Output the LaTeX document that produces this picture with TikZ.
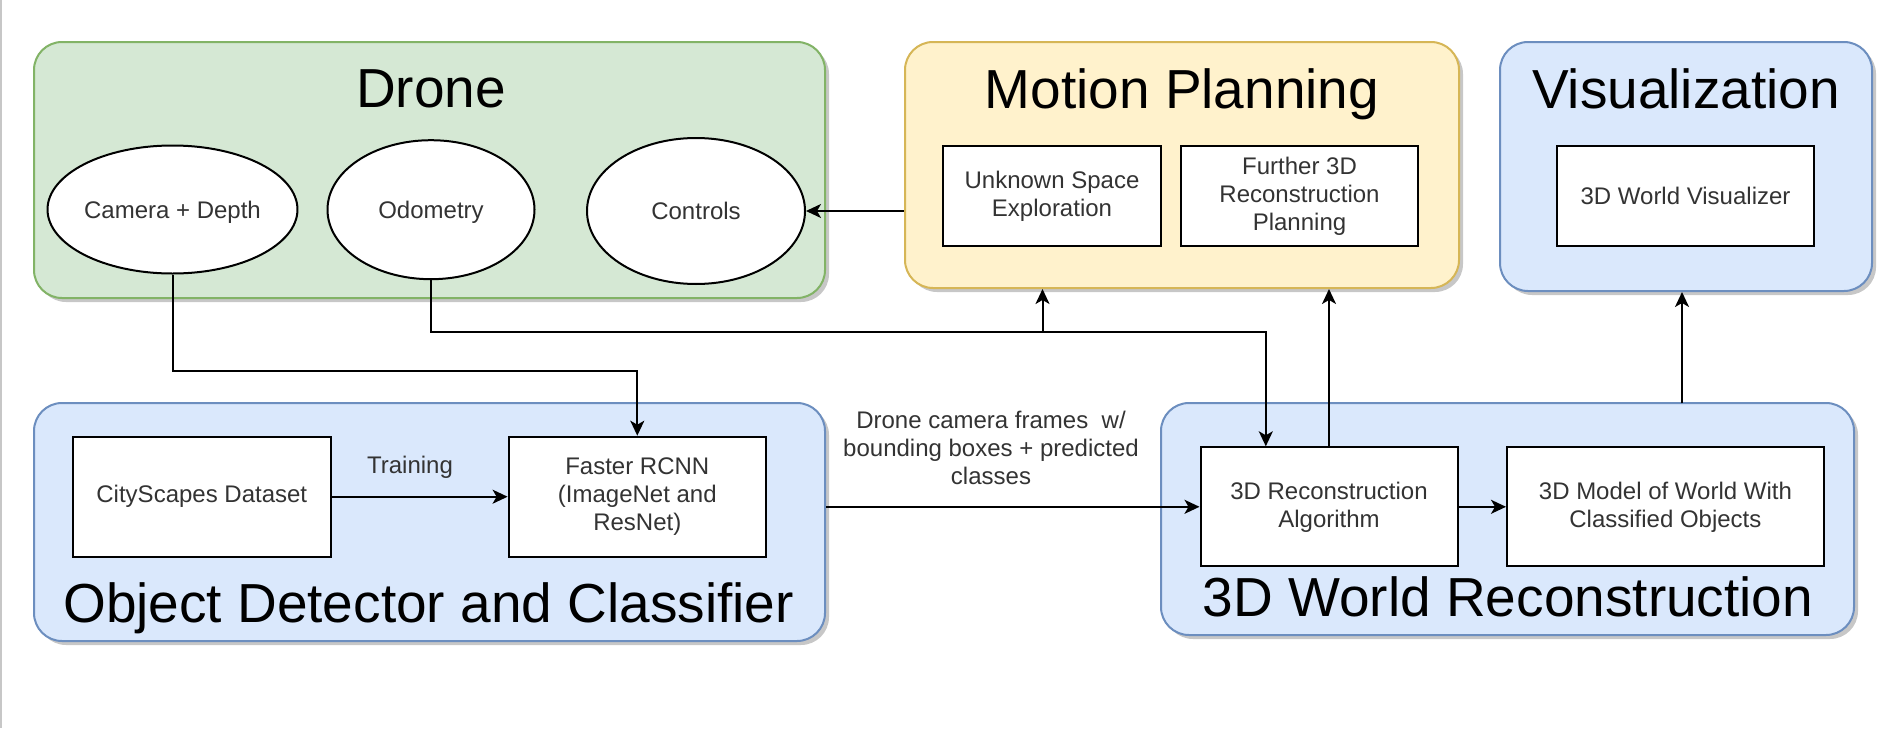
\documentclass[tikz,border=0pt]{standalone}
\usepackage{fontspec}
\setmainfont{Liberation Sans}
\usetikzlibrary{arrows.meta,shapes.geometric,shadows}
\definecolor{grfill}{HTML}{D5E8D4}
\definecolor{grline}{HTML}{82B366}
\definecolor{yefill}{HTML}{FFF2CC}
\definecolor{yeline}{HTML}{D6B656}
\definecolor{blfill}{HTML}{DAE8FC}
\definecolor{blline}{HTML}{6C8EBF}
\definecolor{txt}{HTML}{333333}
\tikzset{
  cont/.style={draw, line width=2pt, rounded corners=28pt, inner sep=0pt,
    drop shadow={shadow xshift=4pt, shadow yshift=-4pt, fill=black, opacity=0.22}},
  inbox/.style={draw=black, fill=white, line width=2pt, inner sep=0pt, align=center,
    text=txt, font=\fontsize{24}{28}\selectfont},
  oval/.style={ellipse, draw=black, fill=white, line width=2pt, inner sep=0pt,
    text=txt, font=\fontsize{24}{28}\selectfont, text height=17pt, text depth=0pt},
  title/.style={anchor=base, inner sep=0pt, font=\fontsize{55}{60}\selectfont},
  lbl/.style={align=center, inner sep=0pt, text=txt, font=\fontsize{24}{28}\selectfont},
  arr/.style={line width=2pt, -{Stealth[length=15pt, width=14pt, inset=4pt]}},
  ln/.style={line width=2pt}
}
\begin{document}
\begin{tikzpicture}[x=1pt,y=-1pt]
\useasboundingbox (0,0) rectangle (1892,728);
\fill[white] (0,0) rectangle (1892,728);
\draw[black!22, line width=2pt] (1,0) -- (1,728);

% containers
\node[cont, draw=grline, fill=grfill, minimum width=791pt, minimum height=256pt] (drone) at (429.5,170) {};
\node[cont, draw=yeline, fill=yefill, minimum width=554pt, minimum height=246pt] (mp) at (1182,165) {};
\node[cont, draw=blline, fill=blfill, minimum width=372pt, minimum height=249pt] (vz) at (1686,166.5) {};
\node[cont, draw=blline, fill=blfill, minimum width=791pt, minimum height=238pt] (od) at (429.5,522) {};
\node[cont, draw=blline, fill=blfill, minimum width=693pt, minimum height=232pt] (wr) at (1507.5,519) {};

% titles
\node[title] (tdrone) at (431,107) {Drone};
\node[title] (tmp) at (1182,108) {Motion Planning};
\node[title] (tvz) at (1686,108) {Visualization};
\node[title] (tod) at (428.5,622) {Object Detector and Classifier};
\node[title] (twr) at (1508,616) {3D World Reconstruction};

% drone ellipses
\node[oval, minimum width=198pt, minimum height=128pt] (cam) at (172.5,209.5) {Camera + Depth};
\node[oval, minimum width=207pt, minimum height=139pt] (odo) at (431,209.7) {Odometry};
\node[oval, minimum width=218pt, minimum height=146pt] (ctrl) at (696,211) {Controls};

% inner boxes
\node[inbox, minimum width=218pt, minimum height=100pt] (unk) at (1052,196) {Unknown Space\\Exploration};
\node[inbox, minimum width=237pt, minimum height=100pt] (fur) at (1299.5,196) {Further 3D\\Reconstruction\\Planning};
\node[inbox, minimum width=257pt, minimum height=100pt] (wv) at (1685.5,196) {3D World Visualizer};
\node[inbox, minimum width=257.6pt, minimum height=120pt] (city) at (201.8,496.7) {CityScapes Dataset};
\node[inbox, minimum width=257.4pt, minimum height=120pt] (frcnn) at (637.3,496.7) {Faster RCNN\\(ImageNet and\\ResNet)};
\node[inbox, minimum width=257pt, minimum height=119pt] (algo) at (1329,506.8) {3D Reconstruction\\Algorithm};
\node[inbox, minimum width=316.8pt, minimum height=119pt] (model) at (1665.4,506.8) {3D Model of World With\\Classified Objects};

% labels
\node[lbl] (ltrain) at (410,467) {Training};
\node[lbl] (lframes) at (991,448) {Drone camera frames\ \ w/\\bounding boxes + predicted\\classes};

% helper coordinates
\coordinate (j1) at (637.3,371.3);
\coordinate (a1) at (1265.8,332.3);
\coordinate (b1) at (1042.5,332.3);
\coordinate (v1) at (1682,403.3);

% connectors
\draw[arr] (mp.west |- ctrl.east) -- (ctrl.east);
\draw[arr] (cam.south) -- (cam.south |- j1) -- (j1) -- (frcnn.north);
\draw[arr] (odo.south) |- (a1) -- (a1 |- algo.north);
\draw[arr] (b1) -- (b1 |- mp.south);
\draw[arr] (algo.north) -- (algo.north |- mp.south);
\draw[arr] (v1) -- (v1 |- vz.south);
\draw[arr] (od.east |- algo.west) -- (algo.west);
\draw[arr] (city.east) -- (frcnn.west);
\draw[arr] (algo.east) -- (model.west);
\end{tikzpicture}
\end{document}
